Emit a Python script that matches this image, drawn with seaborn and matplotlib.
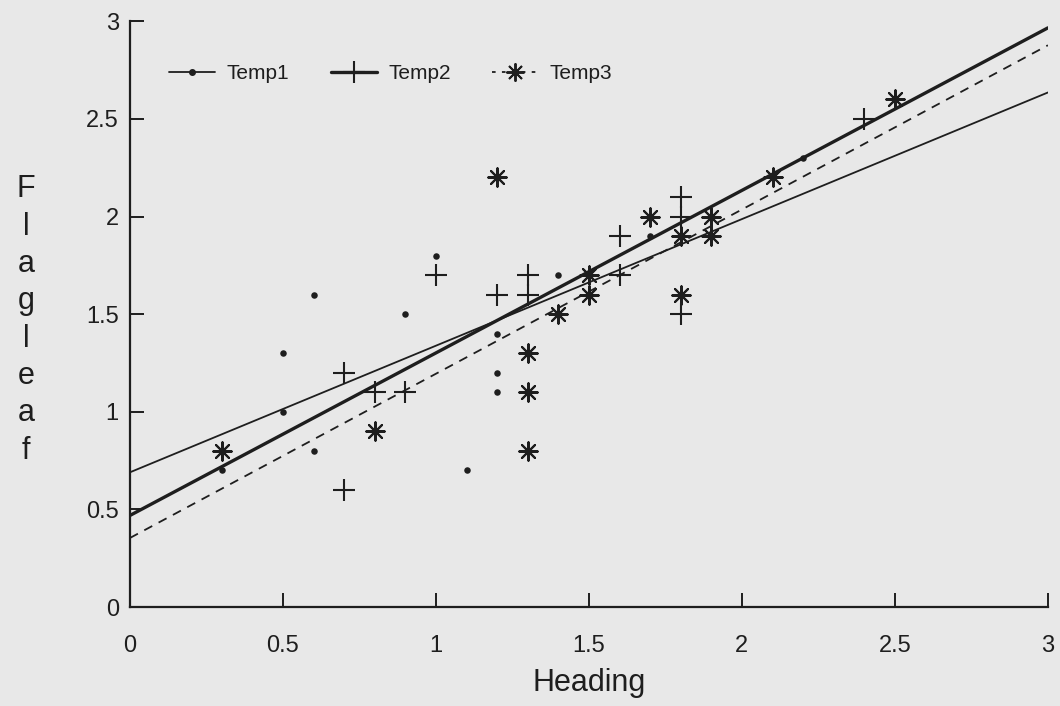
import numpy as np
import pandas as pd
import seaborn as sns
import matplotlib
matplotlib.use("Agg")
import matplotlib.pyplot as plt
from matplotlib.lines import Line2D

# Values
temp1_heading = [0.3, 0.5, 0.5, 0.6, 0.6, 0.9, 1.0, 1.1, 1.2, 1.2, 1.2, 1.4, 1.7, 2.2]
temp1_flagleaf = [0.7, 1.0, 1.3, 1.6, 0.8, 1.5, 1.8, 0.7, 1.4, 1.2, 1.1, 1.7, 1.9, 2.3]

temp2_heading = [0.7, 0.7, 0.8, 0.9, 1.0, 1.2, 1.3, 1.3, 1.6, 1.6, 1.8, 1.8, 1.8, 2.4]
temp2_flagleaf = [1.2, 0.6, 1.1, 1.1, 1.7, 1.6, 1.7, 1.6, 1.9, 1.7, 2.1, 2.0, 1.5, 2.5]

temp3_heading = [0.3, 0.8, 1.2, 1.3, 1.3, 1.3, 1.4, 1.5, 1.5, 1.7, 1.8, 1.8, 1.9, 1.9, 2.1, 2.5]
temp3_flagleaf = [0.8, 0.9, 2.2, 1.3, 1.1, 0.8, 1.5, 1.7, 1.6, 2.0, 1.9, 1.6, 2.0, 1.9, 2.2, 2.6]

groups = ["Temp1", "Temp2", "Temp3"]
tick_vals = [0, 0.5, 1, 1.5, 2, 2.5, 3]
tick_labels = ["0", "0.5", "1", "1.5", "2", "2.5", "3"]

df = pd.concat([
    pd.DataFrame({"Heading": temp1_heading, "Flagleaf": temp1_flagleaf, "Group": "Temp1"}),
    pd.DataFrame({"Heading": temp2_heading, "Flagleaf": temp2_flagleaf, "Group": "Temp2"}),
    pd.DataFrame({"Heading": temp3_heading, "Flagleaf": temp3_flagleaf, "Group": "Temp3"}),
])

ink = "#1e1e1e"
paper = "#e8e8e8"
asterisk = (8, 2, 0)

# marker, marker size, line width, line style for each group
styles = {
    "Temp1": dict(marker="o", s=22, lw=1.3, ls="-", mlw=0),
    "Temp2": dict(marker="+", s=240, lw=2.4, ls="-", mlw=1.5),
    "Temp3": dict(marker=asterisk, s=175, lw=1.3, ls=(0, (5, 4)), mlw=1.5),
}

sns.set_style("ticks")
plt.rcParams["font.family"] = ["Liberation Sans", "DejaVu Sans"]

fig = plt.figure(figsize=(10.6, 7.06), dpi=100, facecolor=paper)
ax = fig.add_axes([0.1226, 0.140, 0.866, 0.830])
ax.set_facecolor(paper)
ax.set_xlim(0, 3)
ax.set_ylim(0, 3)

for g in groups:
    st = styles[g]
    sub = df[df["Group"] == g]
    sns.regplot(data=sub, x="Heading", y="Flagleaf", ax=ax, ci=None, truncate=False,
                marker=st["marker"], color=ink,
                scatter_kws=dict(s=st["s"], linewidths=st["mlw"], alpha=1),
                line_kws=dict(lw=st["lw"], ls=st["ls"]))

ax.set_xlim(0, 3)
ax.set_ylim(0, 3)

sns.despine(ax=ax)
for sp in ["left", "bottom"]:
    ax.spines[sp].set_color(ink)
    ax.spines[sp].set_linewidth(1.6)

ax.set_xticks(tick_vals)
ax.set_xticklabels(tick_labels)
ax.set_yticks(tick_vals)
ax.set_yticklabels(tick_labels)
ax.tick_params(axis="both", direction="in", length=10, width=1.4, color=ink,
               labelsize=17, labelcolor=ink)
ax.tick_params(axis="x", pad=20)
ax.tick_params(axis="y", pad=8)

ax.set_xlabel("Heading", fontsize=22, color=ink, labelpad=8)
ax.set_ylabel("F\nl\na\ng\nl\ne\na\nf", fontsize=22, color=ink, rotation=0,
              va="center", ha="center", linespacing=1.32)
ax.yaxis.set_label_coords(-0.113, 0.49)

# legend samples drawn with the same styles as the groups
handles = [
    Line2D([], [], color=ink, lw=1.3, marker="o", markersize=4),
    Line2D([], [], color=ink, lw=2.4, marker="+", markersize=16, markeredgewidth=1.5),
    Line2D([], [], color=ink, lw=1.3, ls=(0, (2, 3.5)), marker=asterisk, markersize=13,
           markeredgewidth=1.4),
]
ax.legend(handles, groups, loc="center left", bbox_to_anchor=(0.043, 0.91), ncol=3,
          frameon=False, fontsize=15, handlelength=2.2, columnspacing=2.0,
          handletextpad=0.55, borderpad=0, borderaxespad=0, labelcolor=ink)

fig.savefig("out.png", dpi=100, facecolor=paper)
